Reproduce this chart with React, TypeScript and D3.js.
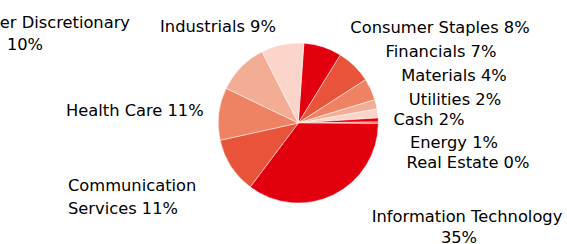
import { useMemo } from "react";
import { pie, arc, PieArcDatum } from "d3";

// sector weights, clockwise from 12 o'clock
const sectors = [
  "Consumer Staples",
  "Financials",
  "Materials",
  "Utilities",
  "Cash",
  "Energy",
  "Real Estate",
  "Information Technology",
  "Communication Services",
  "Health Care",
  "Consumer Discretionary",
  "Industrials",
];
const weights = [7.7, 7.1, 4.4, 1.9, 1.8, 0.8, 0.3, 35.2, 11.3, 10.6, 10.4, 8.6];

// label text as wrapped in the original
const labelLines = [
  ["Consumer Staples 8%"],
  ["Financials 7%"],
  ["Materials 4%"],
  ["Utilities 2%"],
  ["Cash 2%"],
  ["Energy 1%"],
  ["Real Estate 0%"],
  ["Information Technology", "35%"],
  ["Communication", "Services 11%"],
  ["Health Care 11%"],
  ["Consumer Discretionary", "10%"],
  ["Industrials 9%"],
];

const palette = ["#e2000f", "#e9533a", "#ef8263", "#f4ad95", "#fbd5c9"];
const sliceColor = [0, 1, 2, 3, 4, 0, 1, 0, 1, 2, 3, 4];

// label placement (per line: x, baseline y, anchor)
type LinePos = [number, number, "start" | "middle" | "end"];
const labelLayout: LinePos[][] = [
  [[440, 32.5, "middle"]],
  [[441, 56.5, "middle"]],
  [[454, 80.5, "middle"]],
  [[455, 104.5, "middle"]],
  [[429, 125, "middle"]],
  [[454, 148, "middle"]],
  [[468, 168, "middle"]],
  [[467, 221.5, "middle"], [459, 242.5, "middle"]],
  [[68, 190.5, "start"], [68, 213.5, "start"]],
  [[66, 116, "start"]],
  [[130, 28, "end"], [25, 50, "middle"]],
  [[218, 32, "middle"]],
];

const W = 567;
const H = 244;
const cx = 298.3;
const cy = 123;
const R = 80;

export default function App() {
  const arcs = useMemo(() => {
    const start = (4 * Math.PI) / 180;
    return pie<number>()
      .sort(null)
      .startAngle(start)
      .endAngle(start + 2 * Math.PI)(weights);
  }, []);

  const arcFn = arc<PieArcDatum<number>>().innerRadius(0).outerRadius(R);

  return (
    <svg
      width={W}
      height={H}
      style={{ position: "absolute", left: 0, top: 0, background: "#fff" }}
      fontFamily="'DejaVu Sans', Verdana, sans-serif"
    >
      <g transform={`translate(${cx},${cy})`}>
        {arcs.map((a, i) => (
          <path
            key={sectors[i]}
            d={arcFn(a) ?? ""}
            fill={palette[sliceColor[i]]}
            stroke="#fff"
            strokeOpacity={0.6}
            strokeWidth={0.8}
          />
        ))}
      </g>
      <g fontSize={16.3} fill="#000">
        {labelLines.map((lines, i) =>
          lines.map((t, j) => {
            const [x, y, anchor] = labelLayout[i][j];
            return (
              <text key={`${i}-${j}`} x={x} y={y} textAnchor={anchor}>
                {t}
              </text>
            );
          }),
        )}
      </g>
    </svg>
  );
}
